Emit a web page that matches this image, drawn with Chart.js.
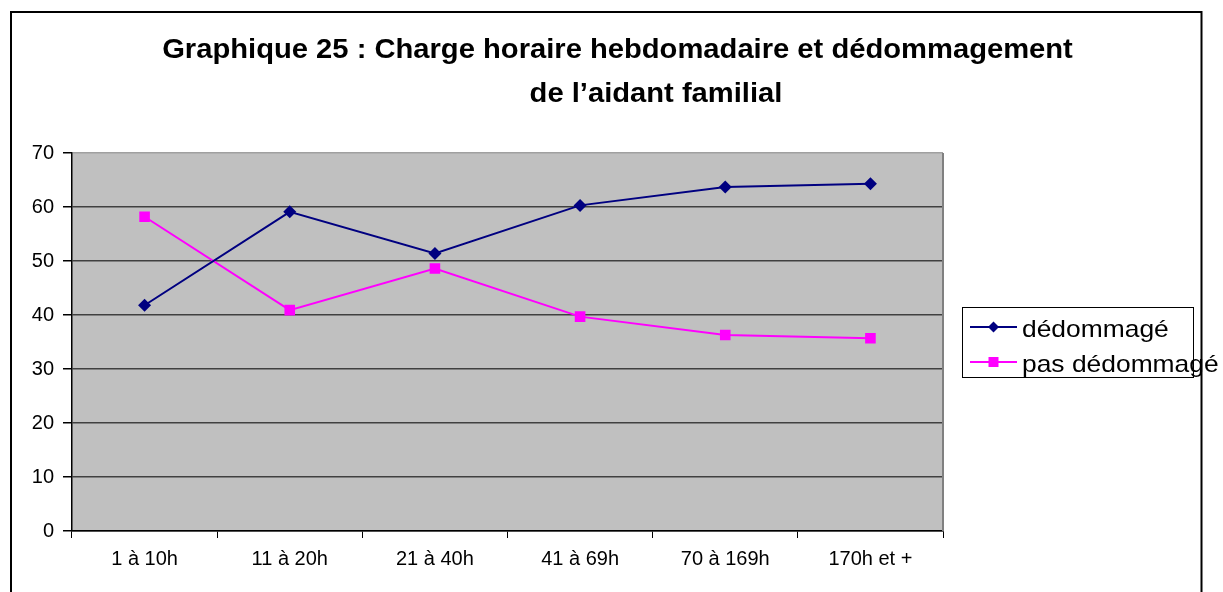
<!DOCTYPE html>
<html>
<head>
<meta charset="utf-8">
<script src="https://cdn.jsdelivr.net/npm/chart.js@4/dist/chart.umd.min.js"></script>
<style>
  html, body { margin: 0; padding: 0; background: #fff; }
  #wrap { width: 1223px; height: 592px; position: relative; }
</style>
</head>
<body>
<div id="wrap"><canvas id="c" width="1223" height="592"></canvas></div>
<script>
const titleLines = ["Graphique 25 : Charge horaire hebdomadaire et dédommagement", "de l\u2019aidant familial"];
const categories = ["1 à 10h", "11 à 20h", "21 à 40h", "41 à 69h", "70 à 169h", "170h et +"];
const seriesNames = ["dédommagé", "pas dédommagé"];
const dedommage = [41.8, 59.1, 51.4, 60.3, 63.7, 64.3];
const pasDedommage = [58.2, 40.9, 48.6, 39.7, 36.3, 35.7];
const yTicks = [0, 10, 20, 30, 40, 50, 60, 70];

const FONT = '"Liberation Sans", Arial, Helvetica, sans-serif';

const decorPlugin = {
  id: 'decor',
  beforeDraw(chart) {
    const { ctx, chartArea: a } = chart;
    ctx.save();
    ctx.fillStyle = '#fff';
    ctx.fillRect(0, 0, chart.width, chart.height);
    ctx.fillStyle = '#C0C0C0';
    ctx.fillRect(a.left, a.top, a.right - a.left, a.bottom - a.top);
    ctx.restore();
  },
  afterDraw(chart) {
    const { ctx, chartArea: a } = chart;
    ctx.save();
    // plot area right border (gray)
    ctx.strokeStyle = '#808080';
    ctx.lineWidth = 2;
    ctx.beginPath();
    ctx.moveTo(Math.round(a.right), a.top);
    ctx.lineTo(Math.round(a.right), a.bottom);
    ctx.stroke();

    // title
    ctx.fillStyle = '#000';
    ctx.font = 'bold 27px ' + FONT;
    ctx.textBaseline = 'alphabetic';
    ctx.textAlign = 'center';
    const tpos = [[617.5, 58], [656, 102]];
    titleLines.forEach((t, i) => {
      ctx.save();
      ctx.translate(tpos[i][0], tpos[i][1]);
      ctx.scale(1.08, 1);
      ctx.fillText(t, 0, 0);
      ctx.restore();
    });

    // legend
    const lx = 962, ly = 307, lw = 231, lh = 70;
    ctx.strokeStyle = '#000';
    ctx.lineWidth = 1;
    ctx.strokeRect(lx + 0.5, ly + 0.5, lw, lh);
    ctx.font = '24px ' + FONT;
    ctx.textAlign = 'left';
    chart.data.datasets.forEach((ds, i) => {
      const y = 327 + i * 35;
      ctx.strokeStyle = ds.borderColor;
      ctx.lineWidth = 2;
      ctx.beginPath();
      ctx.moveTo(970, y);
      ctx.lineTo(1017, y);
      ctx.stroke();
      ctx.fillStyle = ds.pointBackgroundColor;
      ctx.beginPath();
      if (ds.pointStyle === 'rectRot') {
        const r = 5.5;
        ctx.moveTo(993.5 - r, y); ctx.lineTo(993.5, y - r);
        ctx.lineTo(993.5 + r, y); ctx.lineTo(993.5, y + r);
      } else {
        ctx.rect(988.5, y - 5, 10, 10);
      }
      ctx.closePath();
      ctx.fill();
      ctx.fillStyle = '#000';
      ctx.save();
      ctx.translate(1022, y + 10);
      ctx.scale(1.1, 1);
      ctx.fillText(ds.label, 0, 0);
      ctx.restore();
    });

    // outer border
    ctx.strokeStyle = '#000';
    ctx.lineWidth = 2;
    ctx.strokeRect(11, 12, 1190.5, 600);
    ctx.restore();
  }
};

new Chart(document.getElementById('c'), {
  type: 'line',
  data: {
    labels: categories,
    datasets: [
      {
        label: seriesNames[0],
        data: dedommage,
        borderColor: '#000080',
        backgroundColor: '#000080',
        pointBackgroundColor: '#000080',
        pointBorderColor: '#000080',
        pointStyle: 'rectRot',
        pointRadius: 6.5,
        pointBorderWidth: 0,
        borderWidth: 2,
        tension: 0
      },
      {
        label: seriesNames[1],
        data: pasDedommage,
        borderColor: '#FF00FF',
        backgroundColor: '#FF00FF',
        pointBackgroundColor: '#FF00FF',
        pointBorderColor: '#FF00FF',
        pointStyle: 'rect',
        pointRadius: 7.5,
        pointBorderWidth: 0,
        borderWidth: 2,
        tension: 0
      }
    ]
  },
  options: {
    responsive: false,
    animation: false,
    devicePixelRatio: 1,
    layout: { padding: { left: 10, right: 280, top: 153, bottom: 0 } },
    plugins: {
      legend: { display: false },
      title: { display: false },
      tooltip: { enabled: false }
    },
    scales: {
      x: {
        type: 'category',
        offset: true,
        grid: {
          offset: true,
          drawOnChartArea: false,
          drawTicks: true,
          tickLength: 7,
          tickColor: '#000',
          color: '#000'
        },
        border: { display: true, color: '#000', width: 1.5 },
        ticks: {
          color: '#000',
          font: { family: FONT, size: 20 },
          padding: 9,
          maxRotation: 0,
          autoSkip: false
        },
        afterFit(scale) { scale.height = 61; }
      },
      y: {
        min: 0,
        max: 70,
        afterBuildTicks(scale) { scale.ticks = yTicks.map(v => ({ value: v })); },
        grid: {
          drawTicks: true,
          tickLength: 9,
          tickColor: '#000',
          color: (c) => (c.tick && c.tick.value === 70 ? '#a0a0a0' : '#404040'),
          lineWidth: 1.5
        },
        border: { display: true, color: '#000', width: 1.5 },
        ticks: {
          color: '#000',
          font: { family: FONT, size: 20 },
          padding: 9
        },
        afterFit(scale) { scale.width = 62; }
      }
    }
  },
  plugins: [decorPlugin]
});
</script>
</body>
</html>
